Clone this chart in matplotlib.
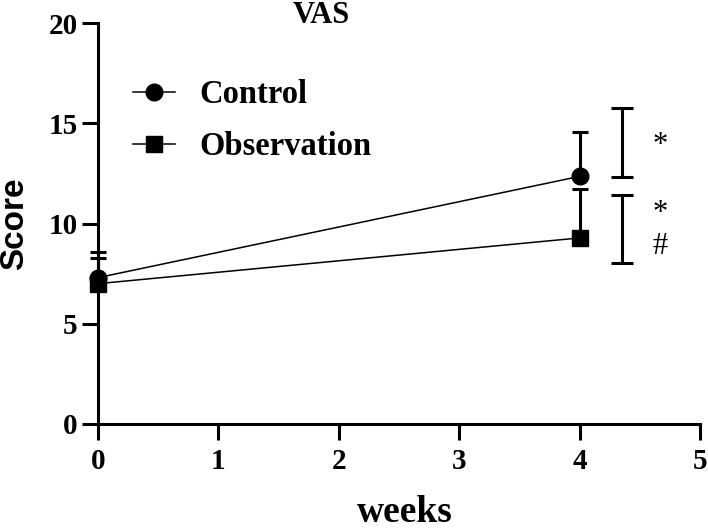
import numpy as np
import matplotlib
matplotlib.use("Agg")
import matplotlib.pyplot as plt

# data
weeks = [0, 4]
control = [7.3, 12.35]
control_err = [1.3, 2.2]
observation = [7.0, 9.28]
observation_err = [1.3, 2.42]

# significance brackets (x, low, high) and marks
bracket_x = 4.35
brackets = [(12.3, 15.76), (8.03, 11.42)]
marks = ["*", "*", "#"]
mark_y = [13.9, 10.5, 8.83]
mark_x = 4.67

serif = "Liberation Serif"
sans = "Liberation Sans"

fig = plt.figure(figsize=(7.08, 5.30), dpi=100)
ax = fig.add_axes([98 / 708, 1 - 424 / 530, 602 / 708, 401 / 530])

lw_axis = 2.2
for m, lab, y, e in [("o", "Control", control, control_err),
                     ("s", "Observation", observation, observation_err)]:
    eb = ax.errorbar(weeks, y, yerr=[np.zeros(len(e)), e], fmt="none",
                     ecolor="black", elinewidth=lw_axis, capsize=6,
                     capthick=lw_axis, zorder=3)
    eb[1][0].set_visible(False)
    for ln in list(eb[1]) + list(eb[2]):
        ln.set_clip_on(False)
    ax.plot(weeks, y, color="black", lw=1.1, marker=m, markersize=12,
            label=lab, clip_on=False, zorder=4)

for lo, hi in brackets:
    eb = ax.errorbar([bracket_x], [(lo + hi) / 2], yerr=[(hi - lo) / 2], fmt="none",
                     ecolor="black", elinewidth=lw_axis, capsize=8,
                     capthick=lw_axis)
    for ln in list(eb[1]) + list(eb[2]):
        ln.set_clip_on(False)

for t, yy in zip(marks, mark_y):
    ax.text(mark_x, yy, t, ha="center", va="center", fontsize=22,
            family=serif, clip_on=False)

ax.set_xlim(0, 5)
ax.set_ylim(0, 20)
ax.set_xticks(range(0, 6))
ax.set_yticks(range(0, 21, 5))
for s in ["top", "right"]:
    ax.spines[s].set_visible(False)
for s in ["left", "bottom"]:
    ax.spines[s].set_linewidth(lw_axis)
ax.tick_params(length=11.5, width=lw_axis, direction="out")
ax.tick_params(axis="x", pad=6)
ax.tick_params(axis="y", pad=3)
for lbl in ax.get_xticklabels() + ax.get_yticklabels():
    lbl.set_fontfamily(serif)
    lbl.set_fontweight("bold")
    lbl.set_fontsize(21)

ax.set_ylabel("Score", fontsize=24, fontweight="bold", family=sans)
ax.yaxis.set_label_coords(-0.112, 0.5)
ax.set_xlabel("weeks", fontsize=27, fontweight="bold", family=serif)
ax.xaxis.set_label_coords(0.51, -0.178)

ax.text(0.370, 1.0, "VAS", transform=ax.transAxes, ha="center", va="baseline",
        fontsize=22, fontweight="bold", family=serif)

leg = ax.legend(loc="upper left", bbox_to_anchor=(0.058, 0.86), frameon=False,
                prop={"family": serif, "weight": "bold", "size": 23.5},
                handlelength=1.3, handletextpad=0.75, labelspacing=0.65,
                borderaxespad=0, borderpad=0)

fig.savefig("out.png", dpi=100)
